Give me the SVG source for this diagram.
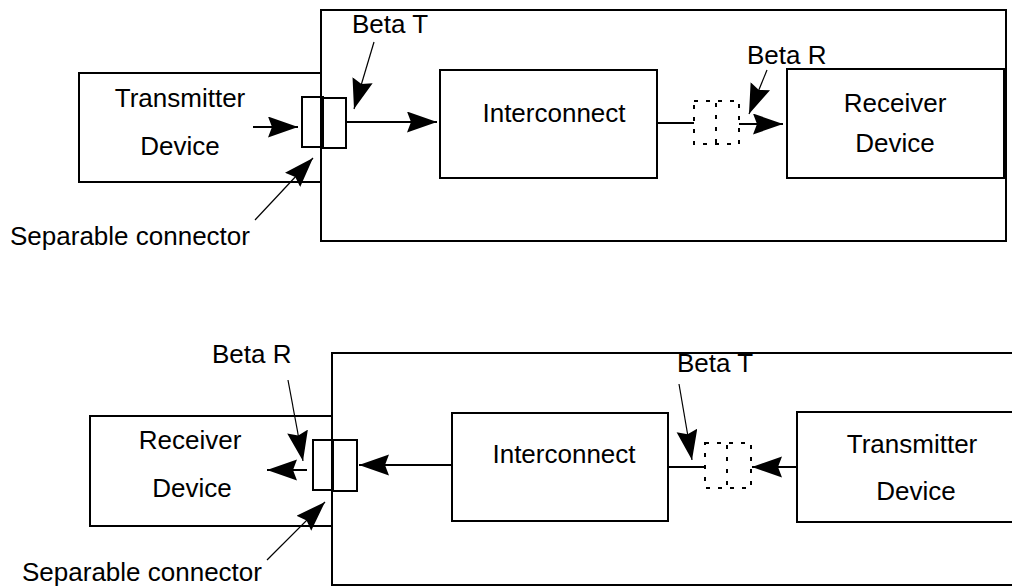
<svg xmlns="http://www.w3.org/2000/svg" width="1012" height="588" viewBox="0 0 1012 588">
  <style>
    .box { fill: none; stroke: #000; stroke-width: 2; }
    .dash { fill: none; stroke: #000; stroke-width: 2; stroke-dasharray: 4 8; }
    .flow { stroke: #000; stroke-width: 2; fill: none; }
    .ptr { stroke: #000; stroke-width: 1.2; fill: none; }
    text { font-family: "Liberation Sans", Arial, sans-serif; font-size: 26px; fill: #000; }
    .c { text-anchor: middle; }
  </style>
  <defs>
    <marker id="head" markerUnits="userSpaceOnUse" markerWidth="34" markerHeight="24" refX="30" refY="10.5" orient="auto">
      <path d="M0,0 L30,10.5 L0,21 L4,10.5 z" fill="#000"/>
    </marker>
  </defs>

  <!-- upper arrangement: transmitter on the left -->
  <g id="top-enclosure"><rect class="box" x="321" y="10" width="685" height="231"/></g>
  <g id="top-transmitter">
    <rect class="box" x="79" y="73" width="242" height="109"/>
    <text class="c" x="180" y="107">Transmitter</text>
    <text class="c" x="180" y="155">Device</text>
  </g>
  <g id="top-connector">
    <rect class="box" x="302" y="97" width="21" height="50"/>
    <rect class="box" x="323" y="98" width="23" height="50"/>
  </g>
  <g id="top-interconnect">
    <rect class="box" x="440" y="70" width="217" height="108"/>
    <text class="c" x="554" y="122">Interconnect</text>
  </g>
  <g id="top-probe">
    <rect class="dash" x="694" y="101" width="45" height="43"/>
    <line class="dash" x1="716" y1="103" x2="716" y2="143"/>
  </g>
  <g id="top-receiver">
    <rect class="box" x="787" y="69" width="217" height="109"/>
    <text class="c" x="895" y="112">Receiver</text>
    <text class="c" x="895" y="152">Device</text>
  </g>
  <g id="top-labels">
    <text x="352" y="33">Beta T</text>
    <text x="747" y="64">Beta R</text>
    <text x="10" y="245">Separable connector</text>
  </g>

  <!-- lower arrangement: receiver on the left -->
  <g id="bottom-enclosure"><path class="box" d="M1014,353 H332 V585 H1014"/></g>
  <g id="bottom-receiver">
    <rect class="box" x="90" y="416" width="242" height="110"/>
    <text class="c" x="190" y="449">Receiver</text>
    <text class="c" x="192" y="497">Device</text>
  </g>
  <g id="bottom-connector">
    <rect class="box" x="313" y="440" width="20" height="50"/>
    <rect class="box" x="333" y="440" width="24" height="51"/>
  </g>
  <g id="bottom-interconnect">
    <rect class="box" x="452" y="413" width="216" height="108"/>
    <text class="c" x="564" y="463">Interconnect</text>
  </g>
  <g id="bottom-probe">
    <rect class="dash" x="705" y="443" width="46" height="45"/>
    <line class="dash" x1="727" y1="445" x2="727" y2="487"/>
  </g>
  <g id="bottom-transmitter">
    <path class="box" d="M1014,412 H797 V522 H1014"/>
    <text class="c" x="912" y="453">Transmitter</text>
    <text class="c" x="916" y="500">Device</text>
  </g>
  <g id="bottom-labels">
    <text x="212" y="363">Beta R</text>
    <text x="677" y="372">Beta T</text>
    <text x="22" y="581">Separable connector</text>
  </g>

  <g id="connectors">
    <!-- upper -->
    <line class="flow" x1="253" y1="127" x2="298" y2="127" marker-end="url(#head)"/>
    <line class="flow" x1="346" y1="122" x2="437" y2="122" marker-end="url(#head)"/>
    <line class="flow" x1="657" y1="123" x2="694" y2="123"/>
    <line class="flow" x1="739" y1="124" x2="783" y2="124" marker-end="url(#head)"/>
    <line class="ptr" x1="374" y1="42" x2="354" y2="109" marker-end="url(#head)"/>
    <line class="ptr" x1="767" y1="70" x2="749" y2="114" marker-end="url(#head)"/>
    <line class="ptr" x1="255" y1="220" x2="313" y2="158" marker-end="url(#head)"/>
    <!-- lower -->
    <line class="flow" x1="451" y1="465" x2="359" y2="465" marker-end="url(#head)"/>
    <line class="flow" x1="307" y1="470" x2="267" y2="470" marker-end="url(#head)"/>
    <line class="flow" x1="668" y1="467" x2="705" y2="467"/>
    <line class="flow" x1="797" y1="467" x2="752" y2="467" marker-end="url(#head)"/>
    <line class="ptr" x1="288" y1="380" x2="303" y2="461" marker-end="url(#head)"/>
    <line class="ptr" x1="679" y1="384" x2="692" y2="460" marker-end="url(#head)"/>
    <line class="ptr" x1="267" y1="560" x2="325" y2="502" marker-end="url(#head)"/>
  </g>
</svg>
